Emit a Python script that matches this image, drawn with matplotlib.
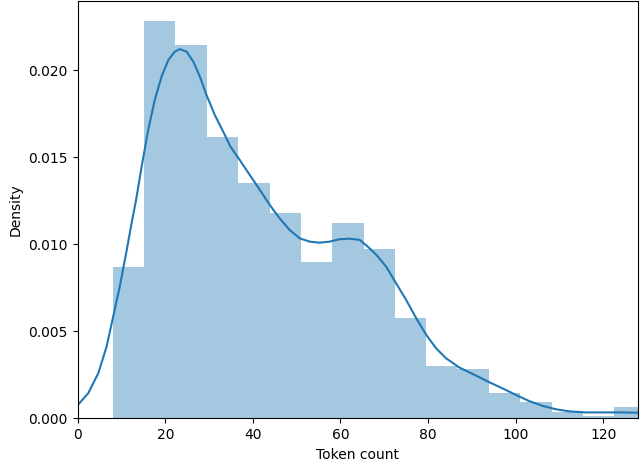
import numpy as np
import matplotlib
matplotlib.use("Agg")
import matplotlib.pyplot as plt

# Histogram bin edges (token count) and densities
bin_edges = [8.0, 15.2, 22.3, 29.5, 36.6, 43.8, 50.9, 58.1, 65.3, 72.4, 79.6,
             86.7, 93.9, 101.0, 108.2, 115.4, 122.5, 129.7]
bin_density = [0.00871, 0.02285, 0.02145, 0.01618, 0.01351, 0.01178, 0.00900,
               0.01124, 0.00971, 0.00575, 0.00302, 0.00283, 0.00144, 0.00095,
               0.00034, 0.00015, 0.00067]

# KDE curve
kde_x = [0.0, 2.4, 4.7, 6.6, 8.1, 9.6, 11.2, 12.3, 13.3, 14.6, 16.1, 17.6,
         19.15, 20.7, 22.2, 23.3, 24.85, 26.4, 27.9, 29.4, 31.3, 33.6, 34.9,
         37.0, 39.3, 41.6, 43.85, 46.1, 48.4, 50.7, 53.0, 55.2, 57.5, 59.8,
         62.1, 64.4, 66.3, 68.2, 70.45, 72.7, 75.0, 77.3, 79.6, 81.85, 84.1,
         87.2, 91.0, 94.0, 97.0, 100.1, 103.1, 106.2, 109.2, 112.2, 116.0,
         119.8, 124.4, 128.0]
kde_y = [0.00076, 0.00144, 0.00259, 0.00412, 0.00584, 0.00756, 0.00967, 0.01121,
         0.01250, 0.01446, 0.01657, 0.01829, 0.01963, 0.02059, 0.02107, 0.02121,
         0.02107, 0.02049, 0.01963, 0.01858, 0.01743, 0.01628, 0.01560, 0.01484,
         0.01398, 0.01312, 0.01226, 0.01149, 0.01082, 0.01034, 0.01015, 0.01009,
         0.01015, 0.01029, 0.01032, 0.01025, 0.00985, 0.00939, 0.00871, 0.00776,
         0.00680, 0.00575, 0.00479, 0.00402, 0.00345, 0.00291, 0.00245, 0.00207,
         0.00172, 0.00134, 0.00099, 0.00071, 0.00052, 0.00040, 0.00034, 0.00034,
         0.00034, 0.00032]

x_ticks = [0, 20, 40, 60, 80, 100, 120]
y_ticks = [0.000, 0.005, 0.010, 0.015, 0.020]

fig = plt.figure(figsize=(6.4, 4.63), dpi=100)
ax = fig.add_axes([0.1214, 0.0965, 0.8759, 0.9015])

edges = np.array(bin_edges)
ax.bar(edges[:-1], bin_density, width=np.diff(edges), align="edge",
       color="#1f77b4", alpha=0.4, linewidth=0)
ax.plot(kde_x, kde_y, color="#1f77b4", linewidth=1.5)

ax.set_xlim(0, 128)
ax.set_ylim(0, 0.02398)
ax.set_xticks(x_ticks)
ax.set_yticks(y_ticks)
ax.set_yticklabels([f"{v:.3f}" for v in y_ticks])
ax.set_xlabel("Token count")
ax.set_ylabel("Density")

fig.savefig("out.png", dpi=100)
